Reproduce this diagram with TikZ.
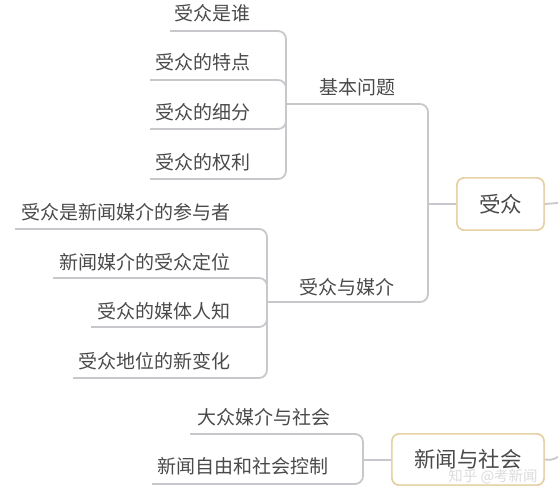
\documentclass[tikz,border=0pt]{standalone}
\usepackage{fontspec}
\setmainfont{Noto Sans CJK SC}
\definecolor{txt}{HTML}{4A4A4A}
\definecolor{linec}{HTML}{C8C8CC}
\definecolor{boxc}{HTML}{E2CE9C}
\definecolor{wmark}{HTML}{DCDCDC}
\begin{document}
\begin{tikzpicture}[x=1pt,y=-1pt,
  leaf/.style={font=\fontsize{19}{19}\selectfont, text=txt, inner sep=0pt, anchor=east},
  midlabel/.style={font=\fontsize{19}{19}\selectfont, text=txt, inner sep=0pt},
  topic/.style={draw=boxc, line width=1.4pt, rounded corners=7pt, fill=white,
    font=\fontsize{21.5}{21.5}\selectfont, text=txt, inner sep=0pt},
  conn/.style={draw=linec, line width=1.8pt, rounded corners=8pt}]
\useasboundingbox (0,0) rectangle (558,500);

% topic boxes
\node[topic, minimum width=87pt, minimum height=52pt] (audience) at (500.5,204) {受众};
\node[topic, minimum width=152pt, minimum height=51pt] (society) at (468,459.5) {新闻与社会};

% group 1 leaves
\node[leaf] (a1) at (251,13) {受众是谁};
\node[leaf] (a2) at (251,62) {受众的特点};
\node[leaf] (a3) at (251,112) {受众的细分};
\node[leaf] (a4) at (251,162) {受众的权利};
\node[midlabel] (basic) at (357,87) {基本问题};

% group 2 leaves
\node[leaf] (b1) at (231,212) {受众是新闻媒介的参与者};
\node[leaf] (b2) at (231,262) {新闻媒介的受众定位};
\node[leaf] (b3) at (231,311) {受众的媒体人知};
\node[leaf] (b4) at (231,361) {受众地位的新变化};
\node[midlabel] (media) at (347,287) {受众与媒介};

% group 3 leaves
\node[leaf] (c1) at (331,417) {大众媒介与社会};
\node[leaf] (c2) at (329,466) {新闻自由和社会控制};

% coordinates for underline ends and junctions
\coordinate (a1l) at (170,31);
\coordinate (a2l) at (150,80);
\coordinate (a3l) at (150,129);
\coordinate (a4l) at (150,179);
\coordinate (ja) at (286,104);
\coordinate (b1l) at (15,229);
\coordinate (b2l) at (53,278);
\coordinate (b3l) at (91,327);
\coordinate (b4l) at (73,378);
\coordinate (jb) at (267,302);
\coordinate (jroot) at (428,204);
\coordinate (c1l) at (190,434);
\coordinate (c2l) at (152,484);
\coordinate (jc) at (363,460);
\coordinate (outa) at (558,203);
\coordinate (outc) at (558,457);

% connectors
\draw[conn] (a1l) -| (ja);
\draw[conn] (a2l) -| (ja);
\draw[conn] (a3l) -| (ja);
\draw[conn] (a4l) -| (ja);
\draw[conn] (b1l) -| (jb);
\draw[conn] (b2l) -| (jb);
\draw[conn] (b3l) -| (jb);
\draw[conn] (b4l) -| (jb);
\draw[conn] (ja) -| (jroot);
\draw[conn] (jb) -| (jroot);
\draw[conn] (jroot) -- (audience.west);
\draw[conn] (audience.east) -- (outa);
\draw[conn] (c1l) -| (jc);
\draw[conn] (c2l) -| (jc);
\draw[conn] (jc) -- (jc -| society.west);
\draw[conn] (society.east) .. controls (552,460) .. (outc);

% redraw boxes on top
\node[topic, minimum width=87pt, minimum height=52pt] at (audience) {受众};
\node[topic, minimum width=152pt, minimum height=51pt] at (society) {新闻与社会};

% watermark
\node[font=\fontsize{14.5}{14.5}\selectfont, text=wmark, inner sep=0pt] (wm) at (493,477) {知乎 @考新闻};
\end{tikzpicture}
\end{document}
